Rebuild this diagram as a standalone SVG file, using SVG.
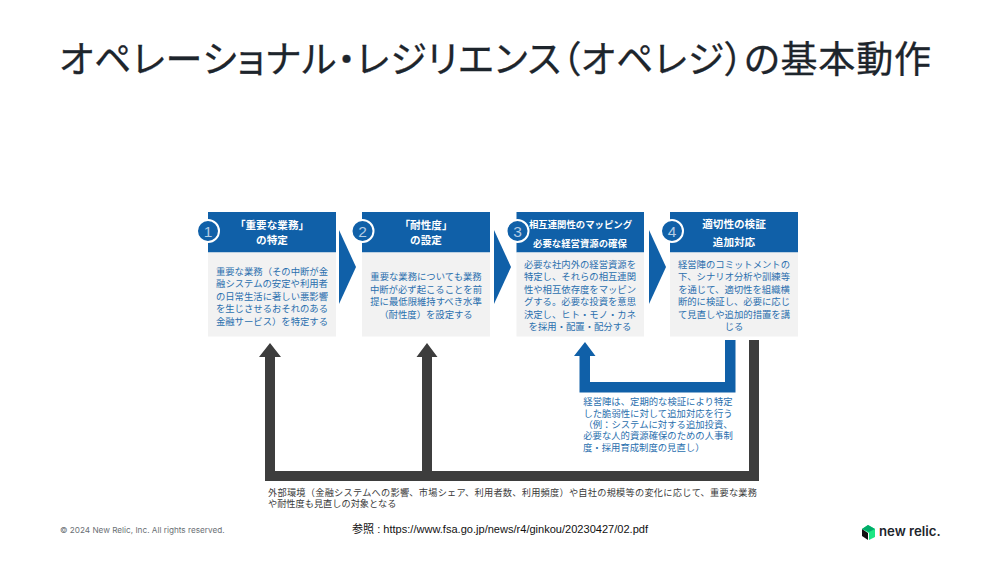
<svg xmlns="http://www.w3.org/2000/svg" width="1000" height="563" viewBox="0 0 1000 563">
<style>
text{font-family:"Noto Sans CJK JP","Noto Sans",sans-serif}
.hd{fill:#1060a8}.bd{fill:#f2f2f2}
.ht{fill:#fff;font-size:10.600px;font-weight:700;text-anchor:middle}
.hs{font-size:9.400px}
.bt{fill:#2a6fae;font-size:9.350px;text-anchor:middle}
.num{fill:#b4cce4;font-size:15.500px;text-anchor:middle;font-family:"Liberation Sans",sans-serif}
.ci{fill:#1060a8;stroke:#fff;stroke-width:2}
.dk{fill:#3d3d3d}.bl{fill:#1060a8}
</style>
<rect width="1000" height="563" fill="#fff"/>
<text id="title" x="59" y="73" font-size="37" fill="#1d252c" stroke="#1d252c" stroke-width="0.300" style="font-feature-settings:'palt';font-weight:400" textLength="872">オペレーショナル・レジリエンス（オペレジ）の基本動作</text>
<g id="connectors">
<path class="bl" d="M339 230L356 267L339 304Z"/>
<path class="bl" d="M494 230L511 267L494 304Z"/>
<path class="bl" d="M649 230L666 267L649 304Z"/>
<path class="dk" d="M265 481V357H259L270 343L281 357H275V471H422V357H416.500L427 343L437.500 357H432V471H749V340H759V481Z"/>
<path class="bl" d="M579.500 392.500V356H574L585 342L595.500 356H590V382H725V340H735.500V392.500Z"/>
</g>
<g id="node1">
<rect class="hd" x="208" y="212" width="128" height="40.500"/><rect class="bd" x="208" y="252.500" width="128" height="84"/>
<circle class="ci" cx="208" cy="231" r="11"/><text class="num" x="208" y="236.500">1</text>
<text class="ht" x="272" y="229">「重要な業務」</text><text class="ht" x="272" y="244">の特定</text>
<text class="bt" x="272" y="274.500">重要な業務（その中断が金</text><text class="bt" x="272" y="287">融システムの安定や利用者</text><text class="bt" x="272" y="299.500">の日常生活に著しい悪影響</text><text class="bt" x="272" y="312">を生じさせるおそれのある</text><text class="bt" x="272" y="324.500">金融サービス）を特定する</text>
</g>
<g id="node2">
<rect class="hd" x="362" y="212" width="128" height="40.500"/><rect class="bd" x="362" y="252.500" width="128" height="84"/>
<circle class="ci" cx="362.500" cy="231" r="11"/><text class="num" x="362.500" y="236.500">2</text>
<text class="ht" x="426" y="229">「耐性度」</text><text class="ht" x="426" y="244">の設定</text>
<text class="bt" x="426" y="280">重要な業務についても業務</text><text class="bt" x="426" y="292.500">中断が必ず起こることを前</text><text class="bt" x="426" y="305">提に最低限維持すべき水準</text><text class="bt" x="426" y="317.500">（耐性度）を設定する</text>
</g>
<g id="node3">
<rect class="hd" x="516.500" y="212" width="127.500" height="40.500"/><rect class="bd" x="516.500" y="252.500" width="127.500" height="84"/>
<circle class="ci" cx="517.500" cy="231" r="11"/><text class="num" x="517.500" y="236.500">3</text>
<text class="ht hs" x="580.500" y="228">相互連関性のマッピング</text><text class="ht hs" x="580" y="247">必要な経営資源の確保</text>
<text class="bt" x="580" y="267.500">必要な社内外の経営資源を</text><text class="bt" x="580" y="280">特定し、それらの相互連関</text><text class="bt" x="580" y="293">性や相互依存度をマッピン</text><text class="bt" x="580" y="305">グする。必要な投資を意思</text><text class="bt" x="580" y="317.500">決定し、ヒト・モノ・カネ</text><text class="bt" x="580" y="330">を採用・配置・配分する</text>
</g>
<g id="node4">
<rect class="hd" x="670" y="212" width="128" height="40.500"/><rect class="bd" x="670" y="252.500" width="128" height="84"/>
<circle class="ci" cx="672" cy="231" r="11"/><text class="num" x="672" y="236.500">4</text>
<text class="ht" x="734" y="228">適切性の検証</text><text class="ht" x="734" y="246">追加対応</text>
<text class="bt" x="734" y="267.500">経営陣のコミットメントの</text><text class="bt" x="734" y="280">下、シナリオ分析や訓練等</text><text class="bt" x="734" y="293">を通じて、適切性を組織横</text><text class="bt" x="734" y="305">断的に検証し、必要に応じ</text><text class="bt" x="734" y="317.500">て見直しや追加的措置を講</text><text class="bt" x="734" y="330">じる</text>
</g>
<g id="note-blue">
<text class="bt" x="658" y="405">経営陣は、定期的な検証により特定</text><text class="bt" x="658" y="416.500">した脆弱性に対して追加対応を行う</text><text class="bt" x="658" y="427.500">（例：システムに対する追加投資、</text><text class="bt" x="658" y="439">必要な人的資源確保のための人事制</text><text class="bt" x="583" y="450.500" style="text-anchor:start">度・採用育成制度の見直し）</text>
</g>
<g id="note-dark" fill="#3a3a3a" font-size="9.200">
<text x="268" y="495.500" textLength="489">外部環境（金融システムへの影響、市場シェア、利用者数、利用頻度）や自社の規模等の変化に応じて、重要な業務</text>
<text x="268" y="506.500">や耐性度も見直しの対象となる</text>
</g>
<text id="copyright" x="60" y="532.500" fill="#6b7075" font-size="8.200" style="font-family:Inter,'Liberation Sans',sans-serif">© 2024 New Relic, Inc. All rights reserved.</text>
<text id="reference" x="352" y="533" fill="#111" font-size="11.050"><tspan>参照</tspan><tspan style="font-family:'Liberation Sans',sans-serif"> : https://www.fsa.go.jp/news/r4/ginkou/20230427/02.pdf</tspan></text>
<g id="logo">
<path d="M868 525L875 529V537L869 540V533L862 529Z" fill="#1ce783"/>
<path d="M862 529L868 533V540L862 536Z" fill="#111"/>
<path d="M868 525L875 529L869 532L862 529Z" fill="#00ac69"/>
<text x="879" y="536" font-size="13.200" font-weight="600" fill="#1d252c" style="font-family:Inter,'Liberation Sans',sans-serif">new relic.</text>
</g>
</svg>
